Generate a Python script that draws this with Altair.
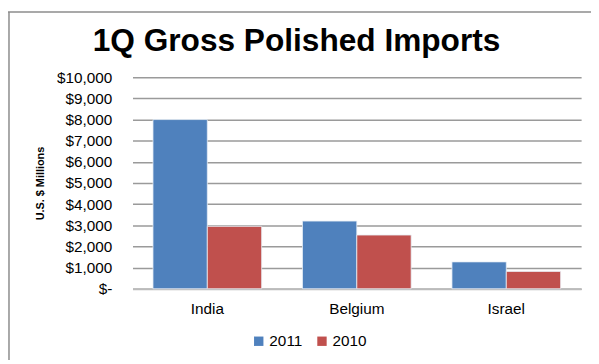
import altair as alt
import pandas as pd

countries = ["India", "Belgium", "Israel"]
years = ["2011", "2010"]
values_2011 = [8000, 3200, 1270]
values_2010 = [2950, 2540, 820]
y_ticks = [0, 1000, 2000, 3000, 4000, 5000, 6000, 7000, 8000, 9000, 10000]
colors = ["#4F81BD", "#C0504D"]
title_text = "1Q Gross Polished Imports"

rows = []
for c, v in zip(countries, values_2011):
    rows.append({"country": c, "year": "2011", "value": v})
for c, v in zip(countries, values_2010):
    rows.append({"country": c, "year": "2010", "value": v})
df = pd.DataFrame(rows)

FONT = "Liberation Sans"

bars = alt.Chart(df).mark_bar(stroke="#E8EEF6", strokeWidth=0.8).encode(
    x=alt.X("country:N", sort=countries, title=None,
            scale=alt.Scale(paddingInner=0.273, paddingOuter=0.137),
            axis=alt.Axis(labelAngle=0, labelFontSize=15.5, labelPadding=13,
                          labelColor="#000", ticks=False, domain=True,
                          domainColor="#BBBBBB", domainWidth=2, labelFont=FONT)),
    xOffset=alt.XOffset("year:N", sort=years),
    y=alt.Y("value:Q", title="U.S. $ Millions",
            scale=alt.Scale(domain=[0, 10000], nice=False),
            axis=alt.Axis(values=y_ticks, labelFontSize=15.5, labelColor="#000",
                          labelFont=FONT, ticks=False, domain=False,
                          labelPadding=21,
                          labelExpr="datum.value == 0 ? '$-' : '$' + format(datum.value, ',')",
                          gridColor="#9A9A9A", gridWidth=1.5,
                          titleFontSize=11, titleFontWeight="bold", titleFont=FONT,
                          titleColor="#000", titlePadding=11)),
    color=alt.Color("year:N", sort=years,
                    scale=alt.Scale(domain=years, range=colors),
                    legend=alt.Legend(title=None, orient="none", direction="horizontal",
                                      legendX=120, legendY=259, symbolType="square",
                                      symbolSize=90, symbolStrokeWidth=0,
                                      labelFontSize=15.5, labelFont=FONT,
                                      labelColor="#000", columnPadding=12,
                                      labelOffset=3)),
)

frame = pd.DataFrame({"k": [0]})
top_border = alt.Chart(frame).mark_rule(color="#8C8C8C", strokeWidth=1.5).encode(
    x=alt.value(-126), x2=alt.value(470), y=alt.value(-66))
left_border = alt.Chart(frame).mark_rule(color="#8C8C8C", strokeWidth=1.5).encode(
    x=alt.value(-125), y=alt.value(-66), y2=alt.value(290))
title = alt.Chart(frame).mark_text(fontSize=32, font=FONT, fontWeight="bold",
                                   color="#000", align="center",
                                   baseline="alphabetic").encode(
    x=alt.value(166), y=alt.value(-27), text=alt.value(title_text))

chart = alt.layer(bars, top_border, left_border, title).properties(
    width=454, height=214,
    autosize=alt.AutoSizeParams(type="none"),
    padding={"left": 126, "top": 68, "right": 10, "bottom": 70},
).configure_view(stroke=None).configure_axis(grid=True).configure_axisX(grid=False)

chart.save("out.html", embed_options={"renderer": "svg", "actions": False})
